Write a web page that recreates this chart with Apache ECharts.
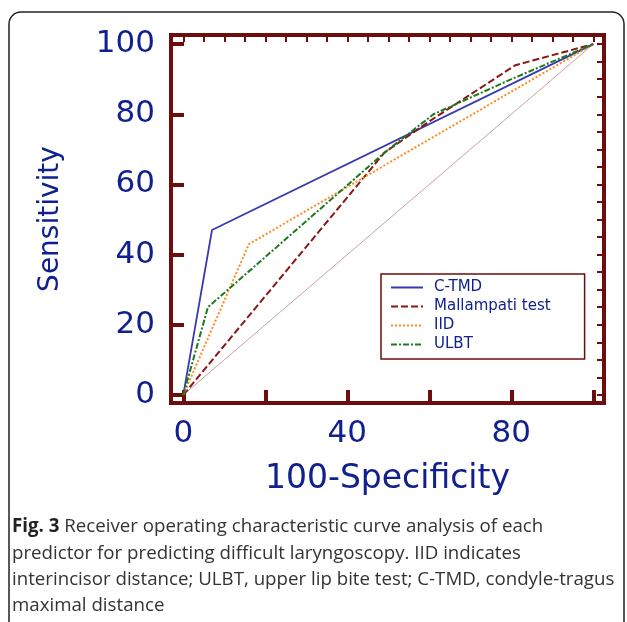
<!DOCTYPE html>
<html>
<head>
<meta charset="utf-8">
<title>ROC curves</title>
<script src="https://cdn.jsdelivr.net/npm/echarts@6/dist/echarts.min.js"></script>
<style>
  html, body { margin: 0; padding: 0; background: #fff; }
  #chart { width: 627px; height: 622px; }
</style>
</head>
<body>
<div id="chart"></div>
<script>
// ROC points: [100-specificity, sensitivity]
const ctmd = [[0, 0], [7, 47], [100, 100]]
const mallampati = [[0, 0], [49, 69], [60, 78], [81, 94], [100, 100]]
const iid = [[0, 0], [16, 43], [100, 100]]
const ulbt = [[0, 0], [6, 25], [49, 69], [61, 80], [80, 90], [100, 100]]
const chance = [[0, 0], [100, 100]]

const majorTicks = [0, 20, 40, 60, 80, 100]
const minorTicks = [0, 5, 10, 15, 20, 25, 30, 35, 40, 45, 50, 55, 60, 65, 70, 75, 80, 85, 90, 95, 100]
const xTickLabels = [0, 40, 80]
const yTickLabels = [0, 20, 40, 60, 80, 100]

const frame = '#6e0d0d'
const navy = '#10208e'
const font = 'DejaVu Sans'

const chart = echarts.init(document.getElementById('chart'))

const minorAxis = (min, max) => ({
  type: 'value',
  min,
  max,
  axisLine: { show: false, onZero: false },
  axisLabel: { show: false },
  splitLine: { show: false },
  axisTick: { inside: true, length: 7, customValues: minorTicks, lineStyle: { color: frame, width: 2 } }
})

chart.setOption({
  animation: false,
  grid: {
    left: 171, right: 23, top: 35, bottom: 219,
    show: true, borderColor: frame, borderWidth: 4, backgroundColor: 'transparent'
  },
  xAxis: [{
    type: 'value',
    min: -3,
    max: 102.6,
    name: '100-Specificity',
    nameLocation: 'middle',
    nameGap: 60,
    nameTextStyle: { fontFamily: font, fontSize: 33, color: navy },
    axisLine: { show: true, onZero: false, lineStyle: { color: frame, width: 4 } },
    axisTick: { inside: true, length: 13, customValues: majorTicks, lineStyle: { color: frame, width: 4 } },
    axisLabel: { customValues: xTickLabels, margin: 15, fontFamily: font, fontSize: 31, color: navy },
    splitLine: { show: false }
  }, minorAxis(-3, 102.6)],
  yAxis: [{
    type: 'value',
    min: -2.3,
    max: 102.6,
    name: 'Sensitivity',
    nameLocation: 'middle',
    nameGap: 106,
    nameTextStyle: { fontFamily: font, fontSize: 28, color: navy },
    axisLine: { show: true, onZero: false, lineStyle: { color: frame, width: 4 } },
    axisTick: { inside: true, length: 13, customValues: majorTicks, lineStyle: { color: frame, width: 4 } },
    axisLabel: { customValues: yTickLabels, margin: 16, fontFamily: font, fontSize: 31, color: navy },
    splitLine: { show: false }
  }, minorAxis(-2.3, 102.6)],
  legend: {
    data: ['C-TMD', 'Mallampati test', 'IID', 'ULBT'],
    orient: 'vertical',
    left: 381,
    top: 274,
    padding: [6, 34, 7, 9],
    itemGap: 4,
    itemWidth: 32,
    itemHeight: 14,
    itemStyle: { opacity: 0 },
    borderColor: frame,
    borderWidth: 1.5,
    backgroundColor: '#fff',
    textStyle: { fontFamily: font, fontSize: 15, color: navy, padding: [0, 0, 0, 6] }
  },
  series: [
    {
      name: 'chance', type: 'line', data: chance, symbol: 'none', silent: true,
      lineStyle: { color: '#c9a0a0', width: 1 }, z: 1
    },
    {
      name: 'C-TMD', type: 'line', data: ctmd, symbol: 'none',
      lineStyle: { color: '#3838b0', width: 1.8, type: 'solid' }, itemStyle: { color: '#3838b0' }
    },
    {
      name: 'Mallampati test', type: 'line', data: mallampati, symbol: 'none',
      lineStyle: { color: '#8a1717', width: 2, type: [7, 3] }, itemStyle: { color: '#8a1717' }
    },
    {
      name: 'IID', type: 'line', data: iid, symbol: 'none',
      lineStyle: { color: '#ff8a1f', width: 2, type: [2, 2] }, itemStyle: { color: '#ff8a1f' }
    },
    {
      name: 'ULBT', type: 'line', data: ulbt, symbol: 'none',
      lineStyle: { color: '#1c7a1c', width: 2, type: [6, 2, 2, 2] }, itemStyle: { color: '#1c7a1c' }
    }
  ],
  graphic: [
    {
      type: 'rect',
      shape: { x: 9, y: 12, width: 615, height: 700, r: 12 },
      style: { fill: 'none', stroke: '#222', lineWidth: 1.5 },
      silent: true
    },
    {
      type: 'text',
      left: 12,
      top: 514,
      style: {
        text: '{b|Fig. 3} Receiver operating characteristic curve analysis of each\n' +
          'predictor for predicting difficult laryngoscopy. IID indicates\n' +
          'interincisor distance; ULBT, upper lip bite test; C-TMD, condyle-tragus\n' +
          'maximal distance',
        fontFamily: 'Open Sans',
        fontSize: 18.7,
        lineHeight: 26.2,
        fill: '#333',
        rich: {
          b: { fontFamily: 'Open Sans', fontSize: 18.7, fontWeight: 'bold', fill: '#222', lineHeight: 26.2 }
        }
      }
    }
  ]
})
</script>
</body>
</html>
